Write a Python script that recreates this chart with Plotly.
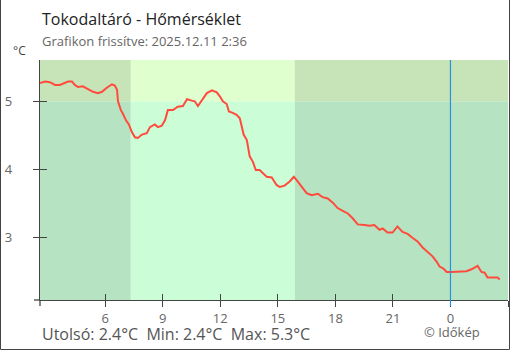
import plotly.graph_objects as go

# ---- data ----
times = [
    "2025-12-10 02:36", "2025-12-10 02:52", "2025-12-10 03:07", "2025-12-10 03:23", "2025-12-10 03:38",
    "2025-12-10 03:48", "2025-12-10 04:04", "2025-12-10 04:16", "2025-12-10 04:25", "2025-12-10 04:35",
    "2025-12-10 04:50", "2025-12-10 05:06", "2025-12-10 05:22", "2025-12-10 05:37", "2025-12-10 05:50",
    "2025-12-10 06:05", "2025-12-10 06:21", "2025-12-10 06:30", "2025-12-10 06:37", "2025-12-10 06:40",
    "2025-12-10 06:49", "2025-12-10 06:55", "2025-12-10 07:05", "2025-12-10 07:14", "2025-12-10 07:23",
    "2025-12-10 07:33", "2025-12-10 07:42", "2025-12-10 07:55", "2025-12-10 08:10", "2025-12-10 08:20",
    "2025-12-10 08:35", "2025-12-10 08:45", "2025-12-10 08:57", "2025-12-10 09:07", "2025-12-10 09:16",
    "2025-12-10 09:32", "2025-12-10 09:47", "2025-12-10 10:03", "2025-12-10 10:16", "2025-12-10 10:31",
    "2025-12-10 10:40", "2025-12-10 10:50", "2025-12-10 11:02", "2025-12-10 11:18", "2025-12-10 11:34",
    "2025-12-10 11:43", "2025-12-10 11:49", "2025-12-10 11:59", "2025-12-10 12:08", "2025-12-10 12:20",
    "2025-12-10 12:27", "2025-12-10 12:39", "2025-12-10 12:51", "2025-12-10 13:01", "2025-12-10 13:07",
    "2025-12-10 13:13", "2025-12-10 13:23", "2025-12-10 13:26", "2025-12-10 13:32", "2025-12-10 13:42",
    "2025-12-10 13:51", "2025-12-10 14:03", "2025-12-10 14:13", "2025-12-10 14:25", "2025-12-10 14:41",
    "2025-12-10 14:56", "2025-12-10 15:06", "2025-12-10 15:21", "2025-12-10 15:37", "2025-12-10 15:50",
    "2025-12-10 15:59", "2025-12-10 16:15", "2025-12-10 16:30", "2025-12-10 16:46", "2025-12-10 17:05",
    "2025-12-10 17:20", "2025-12-10 17:36", "2025-12-10 17:52", "2025-12-10 18:07", "2025-12-10 18:23",
    "2025-12-10 18:39", "2025-12-10 18:54", "2025-12-10 19:10", "2025-12-10 19:31", "2025-12-10 19:47",
    "2025-12-10 20:02", "2025-12-10 20:18", "2025-12-10 20:28", "2025-12-10 20:43", "2025-12-10 20:59",
    "2025-12-10 21:14", "2025-12-10 21:30", "2025-12-10 21:46", "2025-12-10 22:02", "2025-12-10 22:17",
    "2025-12-10 22:33", "2025-12-10 22:49", "2025-12-10 23:04", "2025-12-10 23:17", "2025-12-10 23:26",
    "2025-12-10 23:38", "2025-12-10 23:48", "2025-12-11 00:04", "2025-12-11 00:19", "2025-12-11 00:35",
    "2025-12-11 00:50", "2025-12-11 01:06", "2025-12-11 01:15", "2025-12-11 01:25", "2025-12-11 01:37",
    "2025-12-11 01:47", "2025-12-11 01:56", "2025-12-11 02:11", "2025-12-11 02:27", "2025-12-11 02:34",
]
temps = [
    5.27, 5.29, 5.28, 5.24, 5.24,
    5.26, 5.29, 5.29, 5.24, 5.21,
    5.22, 5.18, 5.14, 5.12, 5.14,
    5.20, 5.25, 5.23, 5.17, 5.00,
    4.87, 4.82, 4.72, 4.66, 4.55,
    4.47, 4.46, 4.51, 4.53, 4.62,
    4.66, 4.62, 4.64, 4.72, 4.87,
    4.87, 4.92, 4.93, 5.03, 5.01,
    5.00, 4.93, 5.02, 5.12, 5.16,
    5.14, 5.13, 5.07, 5.00, 4.96,
    4.85, 4.83, 4.80, 4.75, 4.63,
    4.51, 4.43, 4.36, 4.19, 4.11,
    3.99, 3.99, 3.94, 3.89, 3.88,
    3.77, 3.74, 3.76, 3.82, 3.89,
    3.84, 3.74, 3.65, 3.62, 3.64,
    3.59, 3.57, 3.51, 3.43, 3.39,
    3.35, 3.28, 3.19, 3.18, 3.17,
    3.18, 3.11, 3.13, 3.07, 3.07,
    3.16, 3.08, 3.05, 2.99, 2.94,
    2.85, 2.79, 2.72, 2.64, 2.57,
    2.54, 2.49, 2.49, 2.49, 2.49,
    2.50, 2.53, 2.56, 2.58, 2.49,
    2.48, 2.41, 2.41, 2.41, 2.38,
]
tick_vals = ["2025-12-10 06:00", "2025-12-10 09:00", "2025-12-10 12:00", "2025-12-10 15:00",
             "2025-12-10 18:00", "2025-12-10 21:00", "2025-12-11 00:00", "2025-12-11 03:00"]
tick_text = ["6", "9", "12", "15", "18", "21", "0", "3"]
y_ticks = [3, 4, 5]

x_range = ["2025-12-10 02:36", "2025-12-11 03:00"]
y_range = [2.078, 5.607]
sunrise = "2025-12-10 07:20"
sunset = "2025-12-10 15:53"
midnight = "2025-12-11 00:00"
threshold = 5

title = "Tokodaltáró - Hőmérséklet"
subtitle = "Grafikon frissítve: 2025.12.11 2:36"
footer = "Utolsó: 2.4°C  Min: 2.4°C  Max: 5.3°C"
credit = "© Időkép"

# ---- layout helpers ----
W, H = 510, 350
L, R, T, B = 40, 2, 60, 50
PW, PH = W - L - R, H - T - B


def px(xp):
    return (xp - L) / PW


def py(yp):
    return (H - B - yp) / PH


FONT = "Open Sans"
NIGHT_LO, NIGHT_HI = "#b6e4c2", "#c6e4b8"
DAY_LO, DAY_HI = "#cbfed7", "#dfffce"

fig = go.Figure()
fig.add_trace(go.Scatter(x=times, y=temps, mode="lines",
                         line=dict(color="#ff4b3e", width=2), hoverinfo="skip"))
# overlay trace for inside ticks
fig.add_trace(go.Scatter(x=[x_range[0]], y=[y_range[0]], xaxis="x2", yaxis="y2",
                         mode="markers", marker=dict(opacity=0), hoverinfo="skip"))

shapes = []
bands = [(x_range[0], sunrise, NIGHT_LO, NIGHT_HI),
         (sunrise, sunset, DAY_LO, DAY_HI),
         (sunset, x_range[1], NIGHT_LO, NIGHT_HI)]
for x0, x1, clo, chi in bands:
    shapes.append(dict(type="rect", xref="x", yref="y", x0=x0, x1=x1, y0=y_range[0], y1=threshold,
                       fillcolor=clo, line=dict(width=0), layer="below"))
    shapes.append(dict(type="rect", xref="x", yref="y", x0=x0, x1=x1, y0=threshold, y1=y_range[1],
                       fillcolor=chi, line=dict(width=0), layer="below"))
# midnight line
shapes.append(dict(type="line", xref="x", yref="paper", x0=midnight, x1=midnight,
                   y0=py(306), y1=1, line=dict(color="#2b90e0", width=1.2)))
# axis extensions
shapes.append(dict(type="line", xref="paper", yref="paper", x0=px(34), x1=0, y0=0, y1=0,
                   line=dict(color="#444", width=1.3)))
shapes.append(dict(type="line", xref="paper", yref="paper", x0=0, x1=0, y0=py(306), y1=0,
                   line=dict(color="#444", width=1.3)))
# frame border (left, bottom, right)
for x0, y0, x1, y1 in [(0.5, 0, 0.5, 349.5), (0.5, 349.5, 509.5, 349.5), (509.5, 0, 509.5, 349.5)]:
    shapes.append(dict(type="line", xref="paper", yref="paper", x0=px(x0), x1=px(x1), y0=py(y0), y1=py(y1),
                       line=dict(color="#444", width=1)))

annotations = [
    dict(text=title, x=px(40), y=py(18.5), xanchor="left", yanchor="middle",
         font=dict(family=FONT, size=16, color="#222")),
    dict(text=subtitle, x=px(40), y=py(41), xanchor="left", yanchor="middle",
         font=dict(family=FONT, size=13, color="#666")),
    dict(text="°C", x=px(11), y=py(51), xanchor="left", yanchor="middle",
         font=dict(family=FONT, size=12, color="#444")),
    dict(text=footer, x=px(40), y=py(334), xanchor="left", yanchor="middle",
         font=dict(family=FONT, size=16, color="#555")),
    dict(text=credit, x=px(482), y=py(332), xanchor="right", yanchor="middle",
         font=dict(family=FONT, size=13, color="#666")),
]
for a in annotations:
    a.update(xref="paper", yref="paper", showarrow=False)

axis_font = dict(family=FONT, size=13, color="#666")
fig.update_layout(
    width=W, height=H, margin=dict(l=L, r=R, t=T, b=B),
    paper_bgcolor="white", plot_bgcolor="white", showlegend=False,
    shapes=shapes, annotations=annotations,
    xaxis=dict(type="date", range=x_range, tickvals=tick_vals, ticktext=tick_text,
               showgrid=False, zeroline=False, showline=True, linecolor="#444", linewidth=1.3,
               ticks="outside", ticklen=6, tickwidth=1.3, tickcolor="#444",
               tickfont=axis_font, fixedrange=True),
    yaxis=dict(range=y_range, tickvals=y_ticks, showgrid=False, zeroline=False,
               showline=True, linecolor="#444", linewidth=1.3,
               ticks="outside", ticklen=6, tickwidth=1.3, tickcolor="#444",
               tickfont=axis_font, ticklabelstandoff=18),
    xaxis2=dict(type="date", range=x_range, tickvals=tick_vals, overlaying="x",
                showticklabels=False, showgrid=False, zeroline=False, showline=False,
                ticks="inside", ticklen=6, tickwidth=1.3, tickcolor="#444"),
    yaxis2=dict(range=y_range, tickvals=y_ticks, overlaying="y",
                showticklabels=False, showgrid=False, zeroline=False, showline=False,
                ticks="inside", ticklen=7, tickwidth=1.3, tickcolor="#444"),
)

fig.write_html("out.html")
